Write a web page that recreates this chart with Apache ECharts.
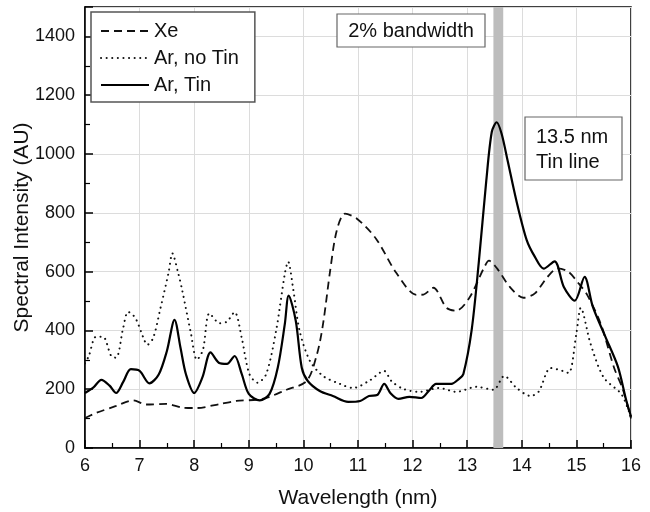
<!DOCTYPE html>
<html>
<head>
<meta charset="utf-8">
<script src="https://cdn.jsdelivr.net/npm/echarts@6/dist/echarts.min.js"></script>
<style>html,body{margin:0;padding:0;background:#fff}#c{width:650px;height:512px}</style>
</head>
<body>
<div id="c"></div>
<script>
const seriesNames = ['Xe', 'Ar, no Tin', 'Ar, Tin'];
const xTicks = [6, 7, 8, 9, 10, 11, 12, 13, 14, 15, 16];
const yTicks = [0, 200, 400, 600, 800, 1000, 1200, 1400];
const bandRange = [13.48, 13.66];

const xeData = [[6,102],[6.2,119],[6.57,143],[6.88,162],[7.12,148],[7.49,150],[7.8,137],[8.04,136],[8.48,150],[8.77,160],[9.25,167],[9.69,198],[10.06,228],[10.25,320],[10.36,422],[10.49,603],[10.61,739],[10.76,797],[10.98,780],[11.33,712],[11.7,596],[12.07,521],[12.2,522],[12.38,545],[12.62,477],[12.8,467],[13.04,511],[13.3,610],[13.4,637],[13.55,610],[13.78,548],[14.03,511],[14.24,526],[14.47,582],[14.66,611],[14.85,600],[15.04,560],[15.2,520],[15.45,420],[15.69,273],[15.85,200],[16,100]];

const arNoTinData = [[6,288],[6.07,313],[6.2,378],[6.33,378],[6.48,313],[6.57,307],[6.7,409],[6.79,463],[6.92,443],[7.07,375],[7.14,351],[7.25,375],[7.38,474],[7.53,596],[7.6,662],[7.7,600],[7.78,537],[7.94,390],[8.05,300],[8.16,334],[8.28,458],[8.47,424],[8.6,430],[8.74,462],[8.87,375],[9.01,252],[9.16,222],[9.32,252],[9.5,399],[9.66,593],[9.72,634],[9.81,545],[9.93,399],[10.12,296],[10.36,245],[10.67,218],[10.91,204],[11.2,228],[11.48,262],[11.61,228],[11.83,201],[12.12,191],[12.49,204],[12.8,191],[13.17,208],[13.48,198],[13.68,245],[13.9,205],[14.16,177],[14.31,192],[14.53,272],[14.75,262],[14.86,255],[15.0,390],[15.08,477],[15.26,354],[15.5,240],[15.82,184],[15.96,126],[16,105]];

const arTinData = [[6,187],[6.15,205],[6.3,232],[6.45,212],[6.57,187],[6.7,225],[6.84,268],[7.0,262],[7.18,220],[7.35,250],[7.5,330],[7.64,436],[7.75,340],[7.85,250],[8.0,187],[8.15,240],[8.3,325],[8.45,290],[8.6,286],[8.74,313],[8.87,252],[9.0,184],[9.2,162],[9.38,184],[9.53,273],[9.66,422],[9.73,518],[9.86,433],[9.97,273],[10.08,228],[10.3,194],[10.54,177],[10.82,157],[11.04,160],[11.2,177],[11.35,180],[11.48,218],[11.6,185],[11.74,167],[11.94,174],[12.16,170],[12.3,195],[12.43,218],[12.55,218],[12.71,218],[12.85,235],[12.93,252],[13.08,399],[13.21,627],[13.35,910],[13.45,1075],[13.54,1108],[13.63,1069],[13.74,978],[13.9,842],[14.09,707],[14.24,650],[14.4,610],[14.6,635],[14.77,548],[14.97,501],[15.15,582],[15.3,481],[15.53,379],[15.76,277],[15.91,164],[16,107]];

const FONT = '"Liberation Sans", Arial, sans-serif';
const chart = echarts.init(document.getElementById('c'), null, {renderer: 'canvas'});

const option = {
  animation: false,
  backgroundColor: '#fff',
  textStyle: {fontFamily: FONT},
  grid: {left: 85, right: 19, top: 7, bottom: 64, show: true, borderColor: '#000', borderWidth: 1.5, backgroundColor: 'transparent', outerBoundsMode: 'none', containLabel: false},
  legend: {
    show: true,
    data: seriesNames,
    orient: 'vertical',
    left: 91, top: 12,
    padding: [9, 16, 7, 9],
    itemGap: 7,
    itemWidth: 48, itemHeight: 14,
    borderColor: '#555', borderWidth: 1.5, backgroundColor: '#fff',
    itemStyle: {opacity: 0},
    textStyle: {fontSize: 20, color: '#111', fontFamily: FONT}
  },
  xAxis: {
    type: 'value', min: xTicks[0], max: xTicks[xTicks.length - 1], interval: 1,
    name: 'Wavelength (nm)', nameLocation: 'middle', nameGap: 40, nameMoveOverlap: false,
    nameTextStyle: {fontSize: 21, color: '#111', fontFamily: FONT},
    axisLine: {lineStyle: {color: '#000', width: 1.5}},
    axisTick: {inside: true, length: 8, lineStyle: {color: '#000', width: 1.5}},
    minorTick: {show: true, splitNumber: 2, length: 5, lineStyle: {color: '#000', width: 1.2}},
    axisLabel: {fontSize: 18, color: '#111', margin: 9, fontFamily: FONT, formatter: v => String(v)},
    splitLine: {show: true, lineStyle: {color: '#dcdcdc', width: 1}}
  },
  yAxis: {
    type: 'value', min: yTicks[0], max: 1500, interval: 200,
    name: 'Spectral Intensity (AU)', nameLocation: 'middle', nameGap: 52, nameMoveOverlap: false,
    nameTextStyle: {fontSize: 21, color: '#111', fontFamily: FONT},
    axisLine: {show: true, lineStyle: {color: '#000', width: 1.5}},
    axisTick: {show: true, inside: true, length: 8, lineStyle: {color: '#000', width: 1.5}},
    minorTick: {show: true, splitNumber: 2, length: 5, lineStyle: {color: '#000', width: 1.2}},
    axisLabel: {fontSize: 18, color: '#111', margin: 10, showMaxLabel: false, fontFamily: FONT, formatter: v => String(v)},
    splitLine: {show: true, lineStyle: {color: '#dcdcdc', width: 1}}
  },
  series: [
    {
      name: 'band', type: 'line', data: [], silent: true,
      markArea: {silent: true, itemStyle: {color: '#bdbdbd', opacity: 1}, data: [[{xAxis: bandRange[0]}, {xAxis: bandRange[1]}]]}
    },
    {
      name: seriesNames[0], type: 'line', data: xeData, smooth: 0.3, showSymbol: false, symbol: 'none',
      lineStyle: {color: '#111', width: 1.8, type: [8, 5]}, itemStyle: {color: '#111'}
    },
    {
      name: seriesNames[1], type: 'line', data: arNoTinData, smooth: 0.3, showSymbol: false, symbol: 'none',
      lineStyle: {color: '#111', width: 2, type: [0.1, 5.5], cap: 'round'}, itemStyle: {color: '#111'}
    },
    {
      name: seriesNames[2], type: 'line', data: arTinData, smooth: 0.3, showSymbol: false, symbol: 'none',
      lineStyle: {color: '#000', width: 2.2}, itemStyle: {color: '#000'}
    }
  ],
  graphic: [
    {type: 'rect', shape: {x: 337, y: 14, width: 148, height: 33}, style: {fill: '#fff', stroke: '#666', lineWidth: 1.2}, z: 100},
    {type: 'text', x: 411, y: 31, style: {text: '2% bandwidth', font: '20px ' + FONT, fill: '#111', textAlign: 'center', textVerticalAlign: 'middle'}, z: 101},
    {type: 'rect', shape: {x: 525, y: 117, width: 97, height: 63}, style: {fill: '#fff', stroke: '#666', lineWidth: 1.2}, z: 100},
    {type: 'text', x: 536, y: 137, style: {text: '13.5 nm', font: '20px ' + FONT, fill: '#111', textAlign: 'left', textVerticalAlign: 'middle'}, z: 101},
    {type: 'text', x: 536, y: 162, style: {text: 'Tin line', font: '20px ' + FONT, fill: '#111', textAlign: 'left', textVerticalAlign: 'middle'}, z: 101}
  ]
};
chart.setOption(option);
</script>
</body>
</html>
